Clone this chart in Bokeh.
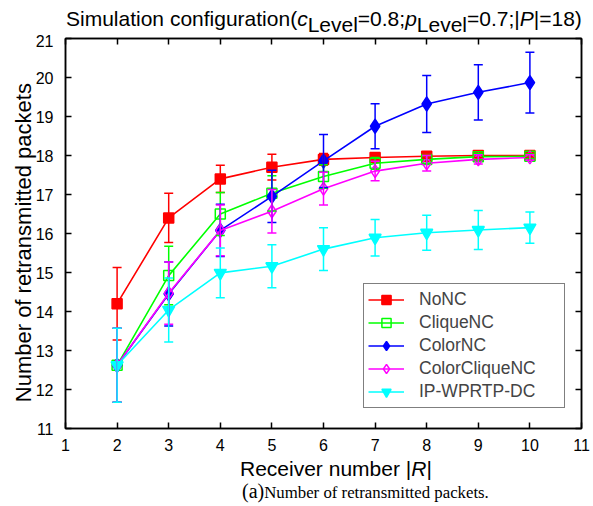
import numpy as np
from bokeh.plotting import figure
from bokeh.layouts import column
from bokeh.models import (Range1d, LinearAxis, FixedTicker, Whisker, TeeHead,
                          ColumnDataSource, Legend, LegendItem, Div)
from bokeh.embed import file_html
from bokeh.resources import INLINE

# ---------------- data ----------------
receivers = [2, 3, 4, 5, 6, 7, 8, 9, 10]

nonc = [14.20, 16.40, 17.40, 17.70, 17.90, 17.95, 17.98, 18.00, 18.00]
nonc_err = [0.93, 0.63, 0.35, 0.33, 0.15, 0.07, 0.05, 0.05, 0.05]

clique = [12.62, 14.92, 16.50, 17.03, 17.46, 17.80, 17.90, 17.97, 17.98]
clique_err = [0.95, 0.75, 0.55, 0.45, 0.30, 0.15, 0.10, 0.08, 0.06]

color = [12.62, 14.45, 16.08, 16.95, 17.86, 18.75, 19.32, 19.62, 19.87]
color_err = [0.95, 0.82, 0.67, 0.67, 0.68, 0.58, 0.73, 0.71, 0.78]

colorclique = [12.62, 14.47, 16.08, 16.57, 17.15, 17.60, 17.80, 17.90, 17.95]
colorclique_err = [0.95, 0.80, 0.65, 0.56, 0.42, 0.25, 0.20, 0.12, 0.07]

ipw = [12.62, 14.04, 14.99, 15.16, 15.60, 15.89, 16.02, 16.09, 16.15]
ipw_err = [0.95, 0.82, 0.64, 0.55, 0.55, 0.47, 0.45, 0.50, 0.40]

series_names = ["NoNC", "CliqueNC", "ColorNC", "ColorCliqueNC", "IP-WPRTP-DC"]
x_ticks = list(range(1, 12))
y_ticks = list(range(11, 22))

title_html = ("Simulation configuration(<i>c</i><span class='sb'>Level</span>=0.8;"
              "<i>p</i><span class='sb'>Level</span>=0.7;|<i>P</i>|=18)")
xlabel_html = "Receiver number |<i>R</i>|"
ylabel_text = "Number of retransmitted packets"
caption_html = "<span style='font-size:20px'>(a)</span>Number of retransmitted packets."

FONT = "Liberation Sans"
SERIF = "Liberation Serif"
W = 593
TOP_H, MAIN_H, BOT_H = 34, 424, 46

# ---------------- title ----------------
top = Div(width=W, height=TOP_H, margin=0, text=(
    "<style>.sb{position:relative;top:6px}</style>"
    f"<div style=\"position:relative;width:{W}px;height:{TOP_H}px;\">"
    "<div style=\"position:absolute;left:66px;top:8px;white-space:nowrap;"
    f"font-family:'{FONT}';font-size:21px;line-height:21px;color:black;\">"
    f"{title_html}</div></div>"))

# ---------------- main plot ----------------
p = figure(width=W, height=MAIN_H, x_range=Range1d(1, 11), y_range=Range1d(11, 21),
           output_backend="svg", toolbar_location=None, title=None,
           min_border_left=65, min_border_right=12, min_border_top=4,
           min_border_bottom=30)
p.background_fill_color = "white"
p.border_fill_color = "white"
p.outline_line_color = "black"
p.outline_line_width = 1.5
p.grid.visible = False

for ax in (p.xaxis[0], p.yaxis[0]):
    ax.major_tick_in = 6
    ax.major_tick_out = 0
    ax.minor_tick_in = 0
    ax.minor_tick_out = 0
    ax.axis_line_width = 1.5
    ax.major_tick_line_width = 1.5
    ax.major_label_text_font = FONT
    ax.major_label_text_font_size = "16px"
    ax.major_label_text_color = "black"
p.xaxis[0].ticker = FixedTicker(ticks=x_ticks)
p.yaxis[0].ticker = FixedTicker(ticks=y_ticks)
p.xaxis[0].major_label_standoff = 10
p.yaxis[0].major_label_standoff = 12
# trailing no-break spaces shift the centred vertical label slightly downwards
p.yaxis[0].axis_label = ylabel_text + "\u00a0\u00a0\u00a0"
p.yaxis[0].axis_label_text_font = FONT
p.yaxis[0].axis_label_text_font_size = "22px"
p.yaxis[0].axis_label_text_font_style = "normal"
p.yaxis[0].axis_label_text_color = "black"
p.yaxis[0].axis_label_standoff = -3

for loc, ticks in (("above", x_ticks), ("right", y_ticks)):
    ax = LinearAxis(ticker=FixedTicker(ticks=ticks), major_label_text_font_size="0px",
                    major_label_standoff=0, major_tick_in=6, major_tick_out=0,
                    minor_tick_in=0, minor_tick_out=0, axis_line_width=1.5,
                    major_tick_line_width=1.5,
                    major_label_overrides={t: "" for t in ticks})
    p.add_layout(ax, loc)

# (colour, marker, size, filled)
styles = [
    ("#ff0000", "square", 10, True),
    ("#00ff00", "square", 10, False),
    ("#0000ff", "diamond", 14, True),
    ("#ff00ff", "diamond", 13, False),
    ("#00ffff", "inverted_triangle", 12, True),
]
values = [nonc, clique, color, colorclique, ipw]
errors = [nonc_err, clique_err, color_err, colorclique_err, ipw_err]

items = []
for name, vals, errs, (c, mk, sz, filled) in zip(series_names, values, errors, styles):
    src = ColumnDataSource(dict(
        x=receivers, y=vals,
        upper=[v + e for v, e in zip(vals, errs)],
        lower=[v - e for v, e in zip(vals, errs)]))
    wk = Whisker(source=src, base="x", upper="upper", lower="lower",
                 line_color=c, line_width=1.5, level="glyph",
                 upper_head=TeeHead(size=9, line_color=c, line_width=1.5),
                 lower_head=TeeHead(size=9, line_color=c, line_width=1.5))
    p.add_layout(wk)
    ln = p.line("x", "y", source=src, line_color=c, line_width=1.6)
    sc = p.scatter("x", "y", source=src, marker=mk, size=sz,
                   line_color=c, line_width=1.5, fill_color=c if filled else None)
    items.append(LegendItem(label=name, renderers=[ln, sc]))

legend = Legend(items=items, location=(298, 20), label_text_font=FONT,
                label_text_font_size="17.5px", glyph_width=36, glyph_height=23,
                label_height=23, spacing=0, padding=4, label_standoff=15,
                label_width=141, border_line_color="black", border_line_width=1.5,
                background_fill_color="white", background_fill_alpha=1.0, margin=0)
p.add_layout(legend, "center")

# ---------------- x label and caption ----------------
bot = Div(width=W, height=BOT_H, margin=0, text=(
    f"<div style=\"position:relative;width:{W}px;height:{BOT_H}px;\">"
    "<div style=\"position:absolute;left:240px;top:0px;white-space:nowrap;"
    f"font-family:'{FONT}';font-size:21px;line-height:21px;color:black;\">"
    f"{xlabel_html}</div>"
    "<div style=\"position:absolute;left:242px;top:23px;white-space:nowrap;"
    f"font-family:'{SERIF}';font-size:16.8px;line-height:20px;color:black;\">"
    f"{caption_html}</div></div>"))

layout = column(top, p, bot, spacing=0)
open("out.html", "w").write(file_html(layout, INLINE))
